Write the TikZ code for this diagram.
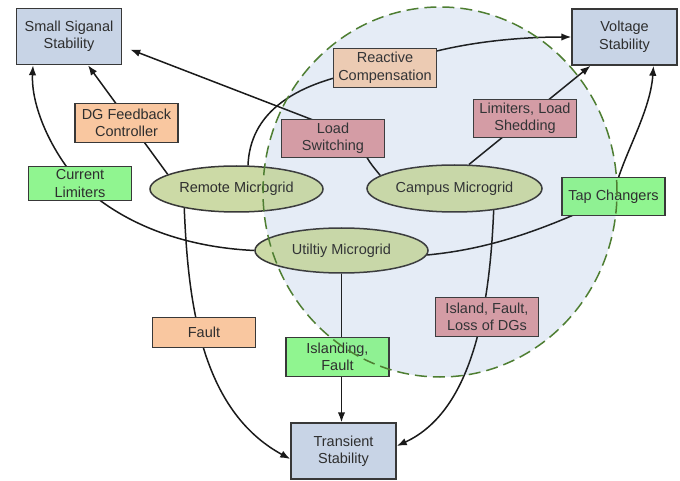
\documentclass[tikz,border=0pt]{standalone}
\usepackage{fontspec}
\setmainfont{Liberation Sans}
\usetikzlibrary{shapes.geometric,arrows.meta}
\pgfdeclarelayer{whitelayer}
\pgfdeclarelayer{bglayer}
\pgfdeclarelayer{fglayer}
\pgfsetlayers{whitelayer,bglayer,main,fglayer}
\definecolor{stabfill}{HTML}{C8D4E6}
\definecolor{orfill}{HTML}{F9C7A0}
\definecolor{orlight}{HTML}{F2CDB2}
\definecolor{rosefill}{HTML}{D89CA3}
\definecolor{grfill}{HTML}{90F590}
\definecolor{elfill}{HTML}{CCDAA6}
\definecolor{bordc}{HTML}{383838}
\definecolor{txtc}{HTML}{2E2E2E}
\definecolor{linec}{HTML}{1A1A1A}
\definecolor{circbg}{HTML}{EAF0F8}
\definecolor{circfill}{HTML}{8AAAD4}
\definecolor{circline}{HTML}{4E7E32}
\tikzset{
  base/.style={draw=bordc, line width=1.5pt, text=txtc, align=center, inner sep=1pt,
    font=\fontsize{14.5}{17.5}\selectfont},
  stabbox/.style={base, rectangle, fill=stabfill, minimum width=105pt, minimum height=56pt},
  orbox/.style={base, rectangle, fill=orfill, minimum width=103pt, minimum height=39pt},
  rosebox/.style={base, rectangle, fill=rosefill, minimum width=103pt, minimum height=38pt},
  grbox/.style={base, rectangle, fill=grfill, minimum width=103pt, minimum height=38pt},
  grid/.style={base, ellipse, fill=elfill, minimum width=173pt, minimum height=46pt},
  conn/.style={draw=linec, line width=1.5pt, -{Latex[length=10pt,width=7.5pt]}},
  circbase/.style={fill=circbg},
  circ/.style={draw=circline, line width=1.5pt, dash pattern=on 12pt off 6pt,
    fill=circfill, fill opacity=0.05}
}
\begin{document}
\begin{tikzpicture}[x=1pt,y=-1pt]
\begin{pgfonlayer}{whitelayer}
  \useasboundingbox[fill=white] (0,0) rectangle (680,481);
  \fill[circbase] (440,192) ellipse [x radius=177pt, y radius=185pt];
\end{pgfonlayer}

\path
  (69,36.5)    node[stabbox] (sss) {Small Siganal\\Stability}
  (624.5,37)   node[stabbox] (vs)  {Voltage\\Stability}
  (343.5,451)  node[stabbox] (tr)  {Transient\\Stability}
  (126.5,123)  node[orbox]   (dg)  {DG Feedback\\Controller}
  (80,183.5)   node[grbox, minimum height=34pt] (cl) {Current\\Limiters}
  (236.5,189)  node[grid]    (rm)  {Remote Microgrid}
  (385,68)     node[orbox, fill=orlight] (rc)  {Reactive\\Compensation}
  (333,138.5)  node[rosebox] (ls)  {Load\\Switching}
  (525,118.5)  node[rosebox] (lls) {Limiters, Load\\Shedding}
  (454.5,188.5) node[grid, minimum width=175pt, minimum height=47pt] (cm) {Campus Microgrid}
  (613.5,196.5) node[grbox]  (tc)  {Tap Changers}
  (341.5,250.5) node[grid, minimum height=45pt] (um) {Utiltiy Microgrid}
  (204,332.5)  node[orbox, minimum height=30pt] (fa) {Fault}
  (337.5,357)  node[grbox, minimum height=39pt] (isl) {Islanding,\\Fault}
  (487,317)    node[rosebox, minimum height=39pt] (ifl) {Island, Fault,\\Loss of DGs};

\begin{pgfonlayer}{bglayer}
  % Utility -> Current Limiters -> Small Signal
  \draw[conn] (um.west) .. controls (180,247) and (120,222) .. (cl.center)
              .. controls (50,150) and (31,105) .. ([xshift=-36pt]sss.south);
  % Remote -> DG Feedback -> Small Signal
  \draw[conn] (rm.168) -- ([xshift=19pt]sss.south);
  % Campus -> Load Switching -> Small Signal
  \draw[conn] (cm.170) .. controls (366,158) .. ([xshift=28pt]ls.center)
              -- ([xshift=8pt,yshift=-13pt]sss.east);
  % Remote -> Reactive Compensation -> Voltage
  \draw[conn] (rm.64) .. controls (250,115) and (290,80) .. (rc.center)
              .. controls (445,42) and (520,37) .. (vs.west);
  % Campus -> Limiters, Load Shedding -> Voltage
  \draw[conn] (cm.59) -- ([xshift=-34pt]vs.south);
  % Utility -> Tap Changers -> Voltage
  \draw[conn] (um.-3) .. controls (480,250) and (535,235) .. (tc.center)
              .. controls (620,160) and (650,115) .. ([xshift=29pt]vs.south);
  % Remote -> Fault -> Transient
  \draw[conn] (rm.200) .. controls (188,300) and (200,410) .. ([yshift=-8pt]tr.west);
  % Utility -> Islanding, Fault -> Transient
  \draw[conn] (um.south) -- (um.south |- tr.north);
  % Campus -> Island, Fault, Loss of DGs -> Transient
  \draw[conn] (cm.-29) .. controls (490,300) and (475,410) .. ([yshift=5pt]tr.east);
\end{pgfonlayer}

\begin{pgfonlayer}{fglayer}
  \draw[circ] (440,192) ellipse [x radius=177pt, y radius=185pt];
\end{pgfonlayer}
\end{tikzpicture}
\end{document}
